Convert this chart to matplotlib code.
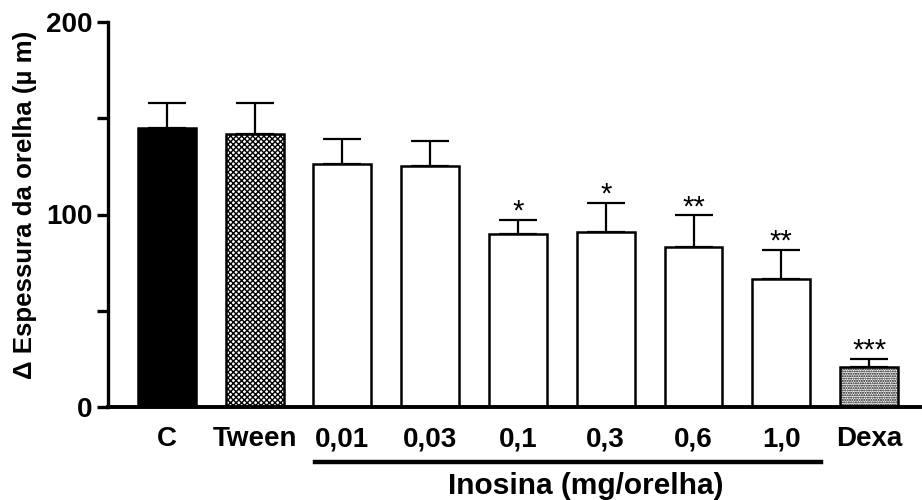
import matplotlib
matplotlib.use("Agg")
import matplotlib.pyplot as plt
import numpy as np

categories = ["C", "Tween", "0,01", "0,03", "0,1", "0,3", "0,6", "1,0", "Dexa"]
means = [145, 142, 126, 125, 90, 91, 83, 66.5, 21]
errors = [13, 16, 13, 13, 7, 15, 16.5, 15, 4]
stars = ["", "", "", "", "*", "*", "**", "**", "***"]
group_label = "Inosina (mg/orelha)"
ylabel = "\u0394 Espessura da orelha (\u00b5 m)"

plt.rcParams['font.family'] = ['Liberation Sans', 'DejaVu Sans']
plt.rcParams['hatch.linewidth'] = 1.0

fig = plt.figure(figsize=(9.22, 5.0), dpi=100)
ax = fig.add_axes([108/922, 1-407/500, (920-108)/922, (407-22)/500])

x = np.arange(len(categories))
faces = ["black", "white", "white", "white", "white", "white", "white", "white", "white"]
hatches = [None, "xxxxxx", None, None, None, None, None, None, "......."]
for xi, m, e, f, h in zip(x, means, errors, faces, hatches):
    ax.bar(xi, m, width=0.66, color=f, edgecolor="black", linewidth=1.8, hatch=h, zorder=2)
    ax.errorbar(xi, m, yerr=[[0], [e]], fmt="none", ecolor="black", elinewidth=1.6,
                capsize=14, capthick=1.6, zorder=1)

for xi, m, e, s in zip(x, means, errors, stars):
    if s:
        ax.text(xi, m + e - 3.0, s, ha="center", va="bottom", fontsize=21)

ax.set_xlim(-0.67, 8.58)
ax.set_ylim(0, 200)
ax.set_yticks([0, 100, 200])
ax.set_yticks([50, 150], minor=True)
ax.set_xticks(x)
ax.set_xticklabels(categories, fontsize=20, fontweight="bold")
ax.tick_params(axis="x", length=0, pad=14)
ax.tick_params(axis="y", which="both", direction="out", length=8, width=2.4, labelsize=20, pad=3)
for lbl in ax.get_yticklabels():
    lbl.set_fontweight("bold")

for sp in ["top", "right"]:
    ax.spines[sp].set_visible(False)
ax.spines["left"].set_linewidth(2.4)
ax.spines["bottom"].set_linewidth(2.8)

ax.set_ylabel(ylabel, fontsize=18.6, fontweight="bold")
ax.yaxis.set_label_coords(-0.088, 0.525)

# group underline and label
trans = ax.get_xaxis_transform()
ax.plot([1.69, 7.45], [-0.143, -0.143], transform=trans, color="black", linewidth=3.2, clip_on=False)
ax.text(4.77, -0.205, group_label, transform=trans, ha="center", va="center", fontsize=21.5, fontweight="bold")

fig.savefig("out.png", dpi=100)
